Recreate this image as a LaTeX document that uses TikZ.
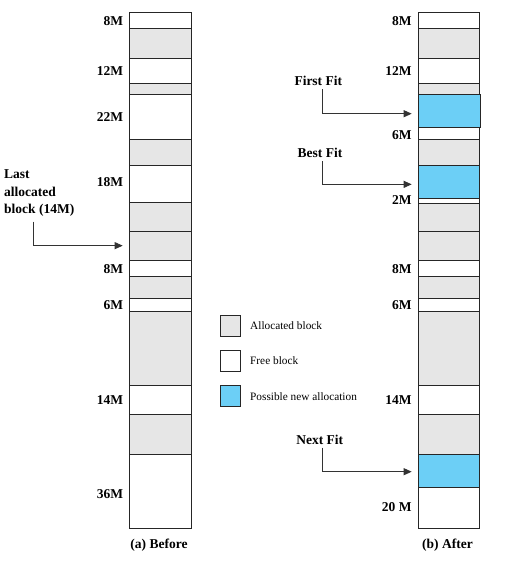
\documentclass[tikz,border=0pt]{standalone}
\usepackage{fontspec}
\setmainfont{Liberation Serif}
\usetikzlibrary{arrows.meta}
\definecolor{allocgray}{HTML}{E6E6E6}
\definecolor{newblue}{HTML}{6CCFF6}
\newcommand\memblk[6]{\node[#2,minimum width=#3,minimum height={#6-#5}] (#1) at (#4,#5) {};}
\begin{document}
\begin{tikzpicture}[x=1pt,y=-1pt,
  blk/.style={draw=black!85,line width=0.8pt,inner sep=0pt,outer sep=0pt,anchor=north west},
  free/.style={blk,fill=white},
  alloc/.style={blk,fill=allocgray},
  newa/.style={blk,fill=newblue},
  size/.style={font=\fontsize{13.5}{16}\selectfont\bfseries,inner sep=0pt,anchor=east},
  lbl/.style={font=\fontsize{13.5}{17.5}\selectfont\bfseries,inner sep=0pt},
  leg/.style={font=\fontsize{11.3}{13}\selectfont,inner sep=0pt,anchor=west},
  legbox/.style={draw=black!85,line width=0.8pt,inner sep=0pt,outer sep=0pt,anchor=north west,minimum width=20.7,minimum height=21},
  arr/.style={draw=black!80,line width=0.9pt,-{Triangle[length=8pt,width=7pt]}}
]
\useasboundingbox (0,0) rectangle (507,570);
% ---------- left column (Before) ----------
\memblk{a1}{free}{62.4}{129.3}{12.3}{28.7}
\memblk{a2}{alloc}{62.4}{129.3}{28.7}{58.7}
\memblk{a3}{free}{62.4}{129.3}{58.7}{83}
\memblk{a4}{alloc}{62.4}{129.3}{83}{94.5}
\memblk{a5}{free}{62.4}{129.3}{94.5}{139.7}
\memblk{a6}{alloc}{62.4}{129.3}{139.7}{165.7}
\memblk{a7}{free}{62.4}{129.3}{165.7}{202.7}
\memblk{a8}{alloc}{62.4}{129.3}{202.7}{231.3}
\memblk{a9}{alloc}{62.4}{129.3}{231.3}{260}
\memblk{a10}{free}{62.4}{129.3}{260}{276.3}
\memblk{a11}{alloc}{62.4}{129.3}{276.3}{298.3}
\memblk{a12}{free}{62.4}{129.3}{298.3}{311.3}
\memblk{a13}{alloc}{62.4}{129.3}{311.3}{385.3}
\memblk{a14}{free}{62.4}{129.3}{385.3}{414.3}
\memblk{a15}{alloc}{62.4}{129.3}{414.3}{454.3}
\memblk{a16}{free}{62.4}{129.3}{454.3}{528.7}
% ---------- right column (After) ----------
\memblk{b1}{free}{60.6}{418.7}{12.3}{28.7}
\memblk{b2}{alloc}{60.6}{418.7}{28.7}{58.7}
\memblk{b3}{free}{60.6}{418.7}{58.7}{83}
\memblk{b4}{alloc}{60.6}{418.7}{83}{94.7}
\memblk{b6}{free}{60.6}{418.7}{127.3}{139.7}
\memblk{b5}{newa}{61.6}{418.7}{94.7}{127.3}
\memblk{b7}{alloc}{60.6}{418.7}{139.7}{165.7}
\memblk{b9}{free}{60.6}{418.7}{198.6}{203.3}
\memblk{b8}{newa}{60.6}{418.7}{165.7}{198.6}
\memblk{b10}{alloc}{60.6}{418.7}{203.3}{231.3}
\memblk{b11}{alloc}{60.6}{418.7}{231.3}{260}
\memblk{b12}{free}{60.6}{418.7}{260}{276.3}
\memblk{b13}{alloc}{60.6}{418.7}{276.3}{298.3}
\memblk{b14}{free}{60.6}{418.7}{298.3}{311.3}
\memblk{b15}{alloc}{60.6}{418.7}{311.3}{385.3}
\memblk{b16}{free}{60.6}{418.7}{385.3}{414.3}
\memblk{b17}{alloc}{60.6}{418.7}{414.3}{454.3}
\memblk{b18}{newa}{60.6}{418.7}{454.3}{487.7}
\memblk{b19}{free}{60.6}{418.7}{487.7}{528.7}
% ---------- size labels ----------
\node[size] (sa1) at (123.3,21.2) {8M};
\node[size] (sa3) at (123.3,71.3) {12M};
\node[size] (sa5) at (123.3,117.3) {22M};
\node[size] (sa7) at (123.3,182) {18M};
\node[size] (sa10) at (123.3,268.8) {8M};
\node[size] (sa12) at (123.3,304.7) {6M};
\node[size] (sa14) at (123.3,399.7) {14M};
\node[size] (sa16) at (123.3,494) {36M};
\node[size] (sb1) at (411.7,21.2) {8M};
\node[size] (sb3) at (411.7,71.3) {12M};
\node[size] (sb6) at (411.7,135.3) {6M};
\node[size] (sb9) at (411.7,200) {2M};
\node[size] (sb12) at (411.7,268.8) {8M};
\node[size] (sb14) at (411.7,304.7) {6M};
\node[size] (sb16) at (411.7,399.7) {14M};
\node[size] (sb19) at (411.7,506.7) {20 M};
% ---------- pointer labels and arrows ----------
\node[lbl,align=left,anchor=west] (last) at (4,193.5) {Last\\allocated\\block (14M)};
\coordinate (lastc) at (33,221.7);
\draw[arr] (lastc) |- ([xshift=-6.6pt]a9.west);
\node[lbl] (ff) at (318.3,80.7) {First Fit};
\coordinate (ffc) at (322.3,89.3);
\draw[arr] (ffc) |- ([xshift=-7pt,yshift=-2.7pt]b5.west);
\node[lbl] (bf) at (320,152.8) {Best Fit};
\coordinate (bfc) at (322.3,161);
\draw[arr] (bfc) |- ([xshift=-7pt,yshift=-2.2pt]b8.west);
\node[lbl] (nf) at (319.7,439.7) {Next Fit};
\coordinate (nfc) at (322.3,447.7);
\draw[arr] (nfc) |- ([xshift=-7pt,yshift=-0.7pt]b18.west);
% ---------- legend ----------
\node[legbox,fill=allocgray] (lg1) at (220,315) {};
\node[legbox,fill=white] (lg2) at (220,350.5) {};
\node[legbox,fill=newblue] (lg3) at (220,385.7) {};
\node[leg] (lt1) at (250,326) {Allocated block};
\node[leg] (lt2) at (250,361) {Free block};
\node[leg] (lt3) at (250,396.5) {Possible new allocation};
% ---------- captions ----------
\node[lbl] (capa) at (159,545.5) {(a) Before};
\node[lbl] (capb) at (447.5,545.5) {(b) After};
\end{tikzpicture}
\end{document}
